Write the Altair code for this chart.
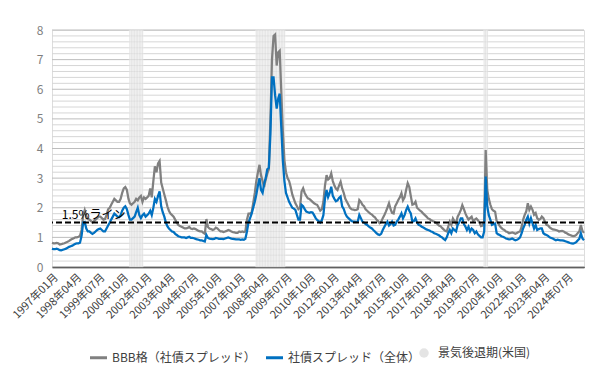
import altair as alt
import pandas as pd

BBB_NAME = "BBB格（社債スプレッド）"
ALL_NAME = "社債スプレッド（全体）"
REC_NAME = "景気後退期(米国)"
LINE_LABEL = "1.5%ライン"

first_month = "1997-01-01"

# BBB-rated corporate spread (monthly, %)
bbb = [
    0.82, 0.80, 0.80, 0.81, 0.80, 0.76, 0.77, 0.79, 0.80, 0.83, 0.85, 0.88,  # 1997
    0.92, 0.95, 0.97, 1.00, 1.00, 1.02, 1.05, 1.25, 1.75, 1.92, 1.72, 1.62,  # 1998
    1.60, 1.55, 1.50, 1.55, 1.60, 1.65, 1.70, 1.70, 1.65, 1.60, 1.62, 1.75,  # 1999
    1.95, 2.00, 2.10, 2.20, 2.30, 2.25, 2.20, 2.20, 2.30, 2.50, 2.65, 2.70,  # 2000
    2.60, 2.30, 2.15, 2.10, 2.15, 2.20, 2.30, 2.25, 2.35, 2.40, 2.20, 2.35,  # 2001
    2.30, 2.35, 2.40, 2.65, 2.35, 2.90, 3.40, 3.20, 3.50, 3.58, 2.85, 2.65,  # 2002
    2.45, 2.25, 2.05, 1.90, 1.80, 1.75, 1.70, 1.60, 1.50, 1.42, 1.38, 1.36,  # 2003
    1.33, 1.30, 1.30, 1.32, 1.35, 1.30, 1.28, 1.30, 1.28, 1.25, 1.22, 1.20,  # 2004
    1.20, 1.15, 1.12, 1.62, 1.35, 1.30, 1.28, 1.25, 1.27, 1.33, 1.30, 1.25,  # 2005
    1.20, 1.20, 1.18, 1.20, 1.22, 1.25, 1.23, 1.20, 1.18, 1.17, 1.15, 1.15,  # 2006
    1.20, 1.18, 1.20, 1.18, 1.20, 1.60, 1.80, 1.80, 1.85, 2.15, 2.50, 2.90,  # 2007
    3.20, 3.45, 3.10, 2.90, 2.70, 2.95, 3.15, 3.30, 5.00, 7.00, 7.80, 7.85,  # 2008
    6.80, 7.25, 7.30, 5.90, 4.60, 3.60, 3.20, 3.00, 2.90, 2.70, 2.45, 2.30,  # 2009
    2.15, 2.05, 1.95, 2.00, 2.55, 2.66, 2.50, 2.40, 2.32, 2.30, 2.25, 2.20,  # 2010
    2.15, 2.12, 2.10, 2.00, 1.90, 1.95, 2.20, 2.75, 3.10, 2.95, 3.00, 3.16,  # 2011
    2.90, 2.75, 2.65, 2.60, 2.75, 2.88, 2.65, 2.50, 2.30, 2.20, 2.10, 2.00,  # 2012
    1.95, 1.94, 1.92, 1.93, 1.95, 2.26, 2.20, 2.10, 2.05, 1.95, 1.90, 1.85,  # 2013
    1.80, 1.77, 1.72, 1.68, 1.60, 1.55, 1.48, 1.52, 1.65, 1.75, 1.87, 2.00,  # 2014
    2.15, 1.95, 1.83, 1.81, 2.05, 2.15, 2.26, 2.35, 2.49, 2.25, 2.35, 2.60,  # 2015
    2.83, 2.70, 2.40, 2.10, 2.12, 2.20, 2.00, 1.95, 1.90, 1.86, 1.80, 1.75,  # 2016
    1.70, 1.64, 1.62, 1.58, 1.55, 1.53, 1.50, 1.45, 1.40, 1.38, 1.32, 1.27,  # 2017
    1.22, 1.20, 1.36, 1.53, 1.42, 1.64, 1.55, 1.47, 1.70, 1.80, 1.92, 2.09,  # 2018
    1.95, 1.80, 1.70, 1.60, 1.65, 1.70, 1.55, 1.60, 1.64, 1.58, 1.50, 1.38,  # 2019
    1.40, 1.53, 3.95, 2.60, 2.30, 2.10, 1.95, 1.90, 1.87, 1.55, 1.47, 1.38,  # 2020
    1.32, 1.27, 1.25, 1.20, 1.18, 1.14, 1.15, 1.17, 1.15, 1.12, 1.15, 1.18,  # 2021
    1.20, 1.36, 1.59, 1.76, 1.87, 2.15, 1.93, 2.04, 1.93, 1.76, 1.82, 1.65,  # 2022
    1.59, 1.62, 1.70, 1.65, 1.53, 1.42, 1.40, 1.34, 1.30, 1.27, 1.26, 1.25,  # 2023
    1.23, 1.20, 1.21, 1.22, 1.20, 1.16, 1.14, 1.10, 1.08, 1.06, 1.04, 1.05,  # 2024
    1.08, 1.15, 1.20, 1.42, 1.22, 1.15,                                      # 2025
]

# Overall corporate spread (monthly, %)
overall = [
    0.62, 0.60, 0.60, 0.62, 0.60, 0.57, 0.56, 0.58, 0.60, 0.62, 0.65, 0.68,  # 1997
    0.70, 0.72, 0.75, 0.78, 0.80, 0.80, 0.82, 1.05, 1.50, 1.52, 1.30, 1.20,  # 1998
    1.20, 1.15, 1.12, 1.15, 1.20, 1.25, 1.28, 1.30, 1.25, 1.20, 1.20, 1.30,  # 1999
    1.40, 1.50, 1.60, 1.70, 1.80, 1.75, 1.70, 1.68, 1.75, 1.90, 2.00, 2.05,  # 2000
    1.95, 1.75, 1.60, 1.60, 1.65, 1.70, 1.85, 2.00, 1.75, 1.65, 1.75, 1.80,  # 2001
    1.70, 1.75, 1.80, 1.90, 1.75, 2.00, 2.30, 2.20, 2.40, 2.55, 2.05, 1.85,  # 2002
    1.70, 1.50, 1.38, 1.30, 1.25, 1.20, 1.18, 1.12, 1.08, 1.04, 1.02, 1.00,  # 2003
    1.00, 1.00, 0.98, 1.00, 1.02, 0.98, 0.98, 0.97, 0.95, 0.93, 0.92, 0.90,  # 2004
    0.90, 0.88, 0.86, 1.08, 0.98, 0.96, 0.95, 0.94, 0.95, 0.98, 0.97, 0.95,  # 2005
    0.95, 0.95, 0.94, 0.96, 0.98, 1.00, 0.98, 0.96, 0.95, 0.94, 0.93, 0.93,  # 2006
    0.93, 0.92, 0.93, 0.92, 0.95, 1.20, 1.50, 1.65, 1.80, 2.00, 2.20, 2.45,  # 2007
    2.75, 3.00, 2.60, 2.50, 2.80, 3.00, 3.30, 3.35, 4.50, 6.40, 6.40, 5.80,  # 2008
    5.35, 5.70, 5.85, 4.70, 3.60, 2.90, 2.50, 2.35, 2.20, 2.10, 2.00, 1.97,  # 2009
    1.93, 1.75, 1.60, 1.60, 2.10, 2.05, 1.95, 1.87, 1.85, 1.83, 1.85, 1.84,  # 2010
    1.75, 1.65, 1.59, 1.55, 1.50, 1.58, 1.75, 2.30, 2.60, 2.36, 2.50, 2.71,  # 2011
    2.40, 2.30, 2.22, 2.25, 2.33, 2.38, 2.05, 1.96, 1.80, 1.70, 1.65, 1.60,  # 2012
    1.55, 1.53, 1.53, 1.52, 1.53, 1.76, 1.65, 1.53, 1.50, 1.45, 1.42, 1.37,  # 2013
    1.33, 1.30, 1.25, 1.20, 1.14, 1.10, 1.08, 1.12, 1.25, 1.35, 1.45, 1.53,  # 2014
    1.40, 1.45, 1.53, 1.40, 1.42, 1.53, 1.60, 1.70, 1.81, 1.64, 1.75, 1.92,  # 2015
    2.04, 1.90, 1.81, 1.53, 1.55, 1.64, 1.50, 1.42, 1.40, 1.36, 1.33, 1.30,  # 2016
    1.27, 1.25, 1.23, 1.20, 1.18, 1.14, 1.12, 1.10, 1.07, 1.03, 1.00, 0.95,  # 2017
    0.91, 1.00, 1.14, 1.25, 1.14, 1.30, 1.25, 1.20, 1.42, 1.50, 1.64, 1.64,  # 2018
    1.45, 1.36, 1.25, 1.36, 1.20, 1.30, 1.25, 1.14, 1.20, 1.10, 1.05, 1.00,  # 2019
    1.00, 1.20, 3.05, 2.04, 1.75, 1.59, 1.42, 1.45, 1.47, 1.14, 1.10, 1.08,  # 2020
    1.04, 1.02, 1.00, 0.96, 0.95, 0.93, 0.94, 0.96, 0.93, 0.90, 0.92, 0.95,  # 2021
    1.00, 1.14, 1.30, 1.42, 1.59, 1.70, 1.47, 1.65, 1.47, 1.30, 1.42, 1.25,  # 2022
    1.28, 1.30, 1.30, 1.14, 1.10, 1.08, 1.05, 1.00, 0.98, 0.96, 0.93, 0.90,  # 2023
    0.92, 0.91, 0.90, 0.90, 0.89, 0.87, 0.85, 0.83, 0.81, 0.80, 0.79, 0.81,  # 2024
    0.84, 0.90, 0.95, 1.14, 0.96, 0.90,                                      # 2025
]

recession_start = ["2001-03-01", "2007-12-01", "2020-02-01"]
recession_end = ["2001-11-01", "2009-06-01", "2020-04-01"]

threshold = [1.5]
threshold_label_date = ["1997-07-10"]

tick_first = "1997-01-01"
tick_last = "2024-07-01"
y_label_values = list(range(0, 9))
y_grid_values = [round(i * 0.2, 1) for i in range(41)]

# ---------- tables ----------
dates = pd.date_range(first_month, periods=len(bbb), freq="MS")
date_str = list(dates.strftime("%Y-%m-%d"))
lines_df = pd.concat([
    pd.DataFrame({"date": date_str, "value": bbb, "series": BBB_NAME}),
    pd.DataFrame({"date": date_str, "value": overall, "series": ALL_NAME}),
])

rec_rows = []
for s, e in zip(recession_start, recession_end):
    for d in pd.date_range(s, e, freq="MS"):
        nxt = d + pd.offsets.MonthBegin(1)
        rec_rows.append({
            "x": (d - pd.Timedelta(days=15)).strftime("%Y-%m-%d"),
            "x2": (nxt - pd.Timedelta(days=15)).strftime("%Y-%m-%d"),
            "y": 0.0, "y2": 8.0, "label": REC_NAME,
        })
rec_df = pd.DataFrame(rec_rows)

grid_df = pd.DataFrame({
    "y": y_grid_values,
    "major": [abs(v - round(v)) < 1e-6 for v in y_grid_values],
})

tick_dates = pd.date_range(tick_first, tick_last, freq="15MS")
tick_values = [alt.DateTime(year=d.year, month=d.month, date=1, utc=True) for d in tick_dates]

start_dt = alt.DateTime(year=dates[0].year, month=dates[0].month, date=1, utc=True)
end_dt = alt.DateTime(year=dates[-1].year, month=dates[-1].month, date=1, utc=True)

FONT = "Noto Sans CJK JP"

x_scale = alt.Scale(type="utc", domain=[start_dt, end_dt])
y_scale = alt.Scale(domain=[0, 8], nice=False)

x_axis = alt.Axis(
    values=tick_values, format="%Y年%m月", labelAngle=-45, labelFontSize=11,
    labelColor="#404040", labelFont=FONT, labelOverlap=False, ticks=False,
    domainColor="#000000", domainWidth=1.5, grid=False, title=None, labelPadding=4,
)
y_axis = alt.Axis(
    values=y_label_values, grid=False, domain=False, ticks=False,
    labelColor="#7f7f7f", labelFontSize=12, labelFont=FONT, labelPadding=9,
    labelOverlap=False, title=None,
)

X = lambda f: alt.X(f, scale=x_scale, axis=x_axis)
Y = lambda f: alt.Y(f, scale=y_scale, axis=y_axis)

grid = alt.Chart(grid_df).mark_rule(strokeWidth=1).encode(
    y=Y("y:Q"),
    color=alt.condition("datum.major", alt.value("#bdbdbd"), alt.value("#d6d6d6")),
)

rects = alt.Chart(rec_df).mark_rect(opacity=0.7, stroke="white", strokeWidth=0.35).encode(
    x=X("x:T"),
    x2="x2:T",
    y=Y("y:Q"),
    y2="y2:Q",
    fill=alt.Fill("label:N", scale=alt.Scale(domain=[REC_NAME], range=["#d9d9d9"]),
                  legend=alt.Legend(title=None, orient="none", legendX=366, legendY=317,
                                    symbolType="circle", symbolSize=90, symbolStrokeWidth=0,
                                    labelFontSize=12, labelColor="#404040", labelFont=FONT,
                                    labelOffset=8)),
)

lines = alt.Chart(lines_df).mark_line(strokeWidth=2.25).encode(
    x=X("date:T"),
    y=Y("value:Q"),
    color=alt.Color("series:N",
                    scale=alt.Scale(domain=[BBB_NAME, ALL_NAME], range=["#808080", "#0070c0"]),
                    legend=alt.Legend(title=None, orient="none", legendX=36, legendY=317,
                                      direction="horizontal", symbolType="stroke",
                                      symbolSize=290, symbolStrokeWidth=3,
                                      labelFontSize=12, labelColor="#404040", labelFont=FONT,
                                      labelOffset=3, columnPadding=3)),
)

rule = alt.Chart(pd.DataFrame({"y": threshold})).mark_rule(
    color="black", strokeWidth=2, strokeDash=[6, 3]
).encode(y=Y("y:Q"))

label = alt.Chart(pd.DataFrame({"date": threshold_label_date, "y": threshold, "t": [LINE_LABEL]})).mark_text(
    align="left", baseline="alphabetic", dy=-4, fontSize=12, font=FONT, color="black"
).encode(x=X("date:T"), y=Y("y:Q"), text="t:N")

chart = alt.layer(grid, rects, lines, rule, label).properties(
    width=532, height=237,
    autosize=alt.AutoSizeParams(type="none"),
    padding={"left": 44, "top": 22, "right": 23, "bottom": 105},
).configure_view(stroke=None).configure(font=FONT)

chart.save("out.html", embed_options={"renderer": "svg", "actions": False})
